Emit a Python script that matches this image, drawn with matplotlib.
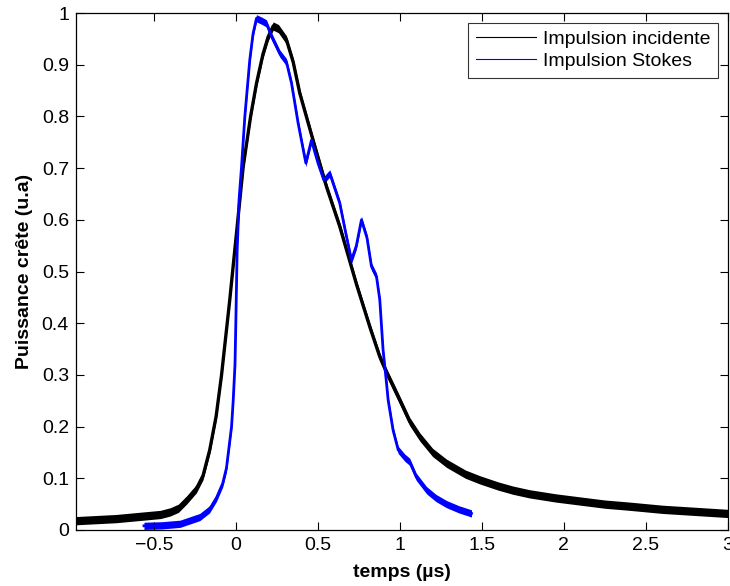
import matplotlib
matplotlib.use('Agg')
import matplotlib.pyplot as plt
from matplotlib.lines import Line2D

plt.rcParams['font.family'] = ['Liberation Sans', 'DejaVu Sans']

# incident pulse (black)
incident_t = [-0.975, -0.73, -0.46, -0.4, -0.35, -0.3, -0.24, -0.2, -0.159, -0.12, -0.087,
              -0.037, 0.004, 0.045, 0.09, 0.126, 0.165, 0.197, 0.228, 0.26, 0.309, 0.35, 0.39,
              0.471, 0.553, 0.634, 0.736, 0.82, 0.878, 0.919, 1.0, 1.06, 1.122, 1.2, 1.285,
              1.4, 1.488, 1.6, 1.69, 1.79, 1.95, 2.1, 2.25, 2.4, 2.6, 2.8, 3.0]
incident_p = [0.018, 0.022, 0.03, 0.035, 0.042, 0.058, 0.08, 0.105, 0.155, 0.22, 0.3,
              0.445, 0.574, 0.703, 0.8, 0.864, 0.92, 0.954, 0.975, 0.97, 0.948, 0.905, 0.845,
              0.754, 0.664, 0.587, 0.475, 0.39, 0.335, 0.305, 0.251, 0.21, 0.18, 0.15, 0.129,
              0.108, 0.097, 0.085, 0.077, 0.07, 0.062, 0.056, 0.05, 0.046, 0.04, 0.036, 0.032]

# Stokes pulse (blue)
stokes_t = [-0.56, -0.45, -0.34, -0.22, -0.16, -0.118, -0.08, -0.057, -0.026, -0.016, -0.005,
            0.0, 0.008, 0.02, 0.035, 0.055, 0.085, 0.105, 0.126, 0.16, 0.187, 0.218, 0.268,
            0.309, 0.34, 0.38, 0.427, 0.461, 0.502, 0.537, 0.573, 0.634, 0.67, 0.705, 0.735,
            0.766, 0.8, 0.827, 0.858, 0.878, 0.898, 0.919, 0.929, 0.959, 0.99, 1.03, 1.06,
            1.10, 1.163, 1.22, 1.285, 1.36, 1.437]
stokes_p = [0.008, 0.009, 0.012, 0.025, 0.04, 0.062, 0.09, 0.12, 0.2, 0.25, 0.32,
            0.4, 0.54, 0.64, 0.703, 0.8, 0.909, 0.96, 0.99, 0.985, 0.98, 0.955, 0.922,
            0.905, 0.864, 0.787, 0.71, 0.754, 0.709, 0.677, 0.69, 0.632, 0.575, 0.522, 0.55,
            0.6, 0.565, 0.51, 0.49, 0.445, 0.348, 0.284, 0.251, 0.193, 0.155, 0.14, 0.132,
            0.103, 0.077, 0.062, 0.05, 0.04, 0.032]

# approximate vertical height of the noise band on each trace
incident_noise = 0.016
stokes_noise = 0.014

fig = plt.figure(figsize=(7.3, 5.86), dpi=100)
ax = fig.add_axes([0.104, 0.0956, 0.893, 0.882])


def draw_trace(t, p, color, lw, noise):
    # noisy scope trace: a band of fixed vertical height plus a centre line,
    # so it looks thick where flat and thin where steep, like the original
    lo = [v - noise / 2 for v in p]
    hi = [v + noise / 2 for v in p]
    ax.fill_between(t, lo, hi, color=color, lw=0)
    ax.plot(t, p, color=color, lw=lw, solid_joinstyle='round')


draw_trace(incident_t, incident_p, 'black', 2.4, incident_noise)
draw_trace(stokes_t, stokes_p, '#0000ff', 2.0, stokes_noise)

ax.set_xlim(-0.975, 3.0)
ax.set_ylim(0, 1)
ax.set_xticks([-0.5, 0, 0.5, 1, 1.5, 2, 2.5, 3])
ax.set_xticklabels(['\u22120.5', '0', '0.5', '1', '1.5', '2', '2.5', '3'])
ax.set_yticks([i / 10 for i in range(11)])
ax.set_yticklabels(['0', '0.1', '0.2', '0.3', '0.4', '0.5', '0.6', '0.7', '0.8', '0.9', '1'])
ax.tick_params(direction='in', top=True, right=True, length=6, width=0.8, labelsize=14,
               pad=5)
for s in ax.spines.values():
    s.set_linewidth(0.9)

ax.set_xlabel('temps (\u00b5s)', fontsize=14, fontweight='bold', labelpad=7)
ax.set_ylabel('Puissance cr\u00eate (u.a)', fontsize=14, fontweight='bold', labelpad=6)

handles = [Line2D([], [], color='black', lw=0.8), Line2D([], [], color='#0000ff', lw=0.8)]
leg = ax.legend(handles, ['Impulsion incidente', 'Impulsion Stokes'], loc='upper right',
                fontsize=14, frameon=True, fancybox=False, edgecolor='black',
                borderaxespad=0.5, borderpad=0.4, labelspacing=0.2, handlelength=3.1,
                handletextpad=0.35)
leg.get_frame().set_linewidth(0.8)

fig.savefig('out.png', dpi=100)
